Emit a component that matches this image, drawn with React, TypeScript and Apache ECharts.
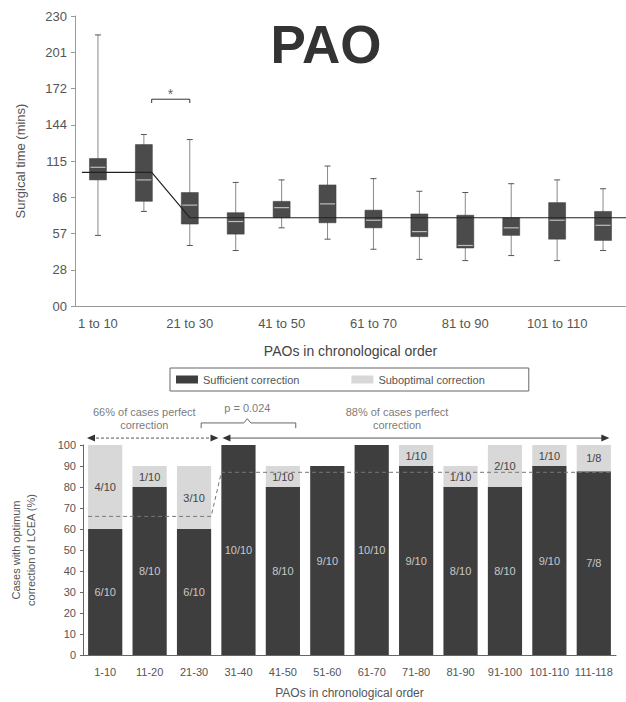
import React, { useEffect, useRef } from 'react';
import * as echarts from 'echarts';

// ---------- Top chart: surgical time box plots ----------
const topCategories = ['1 to 10', '11 to 20', '21 to 30', '31 to 40', '41 to 50', '51 to 60', '61 to 70', '71 to 80', '81 to 90', '91 to 100', '101 to 110', '111 to 118'];
const topTickLabels = ['00', '28', '57', '86', '115', '144', '172', '201', '230'];
const boxMin = [56, 75, 48, 44, 62, 53, 45, 37, 36, 40, 36, 44];
const boxQ1 = [100, 83, 65, 57, 70, 66, 62, 55, 46, 56, 53, 52];
const boxMedian = [110, 100, 80, 67, 78, 81, 68, 59, 48, 62, 68, 64];
const boxQ3 = [117, 128, 90, 74, 83, 96, 76, 73, 72, 70, 82, 75];
const boxMax = [215, 136, 132, 98, 100, 111, 101, 91, 90, 97, 100, 93];
const trendLine = [[0.15, 106], [1.67, 106], [2.5, 70], [12, 70]];
const sigBracket = [[1.67, 161], [1.67, 164], [2.5, 164], [2.5, 161]];
const sigStar = [2.08, 168];

// ---------- Bottom chart: LCEA correction ----------
const bottomCategories = ['1-10', '11-20', '21-30', '31-40', '41-50', '51-60', '61-70', '71-80', '81-90', '91-100', '101-110', '111-118'];
const sufficient = [60, 80, 60, 100, 80, 90, 100, 90, 80, 80, 90, 87.5];
const suboptimal = [40, 10, 30, 0, 10, 0, 0, 10, 10, 20, 10, 12.5];
const sufficientLabels = ['6/10', '8/10', '6/10', '10/10', '8/10', '9/10', '10/10', '9/10', '8/10', '8/10', '9/10', '7/8'];
const suboptimalLabels = ['4/10', '1/10', '3/10', '', '1/10', '', '', '1/10', '1/10', '2/10', '1/10', '1/8'];
const groupRateLine = [[0.115, 66], [2.885, 66], [3.115, 87], [11.885, 87]];
const earlyArrow = [[0.18, 103.3], [2.96, 103.3]];
const lateArrow = [[3.23, 103.3], [11.76, 103.3]];
const pBracket = [[2.66, 108], [2.66, 110.5], [3.62, 110.5], [3.7, 112.5], [3.78, 110.5], [4.79, 110.5], [4.79, 108]];
const annotationTexts = [
  { pos: [1.38, 112.4], text: '66% of cases perfect\ncorrection' },
  { pos: [3.7, 117.6], text: 'p = 0.024' },
  { pos: [7.07, 112.4], text: '88% of cases perfect\ncorrection' },
];

const FONT = 'Liberation Sans, Arial, sans-serif';

export default function App() {
  const ref = useRef<HTMLDivElement>(null);
  useEffect(() => {
    if (!ref.current) return;
    const chart = echarts.init(ref.current, undefined, { renderer: 'svg' });
    const boxData = topCategories.map((_, i) => [i, boxMin[i], boxQ1[i], boxMedian[i], boxQ3[i], boxMax[i]]);
    const option: any = {
      animation: false,
      textStyle: { fontFamily: FONT },
      graphic: [
        {
          type: 'text',
          x: 326,
          y: 44,
          style: { text: 'PAO', fontSize: 53, fontWeight: 'bold', fill: '#333', fontFamily: FONT, textAlign: 'center', textVerticalAlign: 'middle' },
        },
      ],
      legend: {
        data: ['Sufficient correction', 'Suboptimal correction'],
        left: 170,
        top: 368,
        itemWidth: 22,
        itemHeight: 8,
        itemGap: 52,
        icon: 'rect',
        borderColor: '#666',
        borderWidth: 1,
        padding: [6, 44, 6, 6],
        textStyle: { fontSize: 11, color: '#555', fontFamily: FONT },
      },
      grid: [
        { left: 75, top: 16, width: 551, height: 290 },
        { left: 83, top: 445, width: 533, height: 210 },
      ],
      xAxis: [
        {
          gridIndex: 0,
          type: 'category',
          data: topCategories,
          axisLine: { lineStyle: { color: '#999' } },
          axisTick: { alignWithLabel: true, interval: 1, length: 4, lineStyle: { color: '#999' } },
          axisLabel: { interval: 1, color: '#555', fontSize: 13, margin: 11 },
          name: 'PAOs in chronological order',
          nameLocation: 'middle',
          nameGap: 38,
          nameTextStyle: { fontSize: 14, color: '#444' },
        },
        { gridIndex: 0, type: 'value', min: 0, max: 12, show: false },
        {
          gridIndex: 1,
          type: 'category',
          data: bottomCategories,
          axisLine: { lineStyle: { color: '#666' } },
          axisTick: { alignWithLabel: true, length: 3, lineStyle: { color: '#666' } },
          axisLabel: { interval: 0, color: '#555', fontSize: 11, margin: 11 },
          name: 'PAOs in chronological order',
          nameLocation: 'middle',
          nameGap: 32,
          nameTextStyle: { fontSize: 12, color: '#555' },
        },
        { gridIndex: 1, type: 'value', min: 0, max: 12, show: false },
      ],
      yAxis: [
        {
          gridIndex: 0,
          type: 'value',
          min: 0,
          max: 230,
          interval: 28.75,
          axisLine: { show: true, lineStyle: { color: '#999' } },
          axisTick: { show: true, length: 4, lineStyle: { color: '#999' } },
          splitLine: { show: false },
          axisLabel: { color: '#555', fontSize: 13, margin: 8, formatter: (_v: number, i: number) => topTickLabels[i] },
          name: 'Surgical time (mins)',
          nameLocation: 'middle',
          nameGap: 48,
          nameTextStyle: { fontSize: 13, color: '#555' },
        },
        {
          gridIndex: 1,
          type: 'value',
          min: 0,
          max: 100,
          interval: 10,
          axisLine: { show: true, lineStyle: { color: '#666' } },
          axisTick: { show: true, length: 3, lineStyle: { color: '#666' } },
          splitLine: { show: false },
          axisLabel: { color: '#555', fontSize: 11, margin: 7 },
          name: 'Cases with optimum\ncorrection of LCEA (%)',
          nameLocation: 'middle',
          nameGap: 45,
          nameTextStyle: { fontSize: 11, color: '#555', lineHeight: 15 },
        },
      ],
      series: [
        {
          type: 'custom',
          xAxisIndex: 0,
          yAxisIndex: 0,
          data: boxData,
          encode: { x: 0, y: [1, 2, 3, 4, 5] },
          z: 2,
          renderItem: (_params: any, api: any) => {
            const i = api.value(0);
            const lo = api.coord([i, api.value(1)]);
            const q1 = api.coord([i, api.value(2)]);
            const md = api.coord([i, api.value(3)]);
            const q3 = api.coord([i, api.value(4)]);
            const hi = api.coord([i, api.value(5)]);
            const bw = api.size([1, 0])[0] * 0.37;
            const hw = bw / 2;
            const cw = 3;
            const x = lo[0];
            return {
              type: 'group',
              children: [
                { type: 'line', shape: { x1: x, y1: hi[1], x2: x, y2: lo[1] }, style: { stroke: '#8a8a8a', lineWidth: 1 } },
                { type: 'line', shape: { x1: x - cw, y1: hi[1], x2: x + cw, y2: hi[1] }, style: { stroke: '#555', lineWidth: 1 } },
                { type: 'line', shape: { x1: x - cw, y1: lo[1], x2: x + cw, y2: lo[1] }, style: { stroke: '#555', lineWidth: 1 } },
                { type: 'rect', shape: { x: x - hw, y: q3[1], width: bw, height: q1[1] - q3[1] }, style: { fill: '#4b4b4b', stroke: '#3a3a3a', lineWidth: 0.5 } },
                { type: 'line', shape: { x1: x - hw + 1, y1: md[1], x2: x + hw - 1, y2: md[1] }, style: { stroke: '#bdbdbd', lineWidth: 1.2 } },
              ],
            };
          },
        },
        {
          type: 'line',
          xAxisIndex: 1,
          yAxisIndex: 0,
          data: trendLine,
          symbol: 'none',
          z: 4,
          lineStyle: { color: '#222', width: 1.2 },
        },
        {
          type: 'line',
          xAxisIndex: 1,
          yAxisIndex: 0,
          data: sigBracket,
          symbol: 'none',
          z: 4,
          lineStyle: { color: '#333', width: 1 },
        },
        {
          type: 'scatter',
          xAxisIndex: 1,
          yAxisIndex: 0,
          data: [sigStar],
          symbolSize: 1,
          itemStyle: { color: 'rgba(0,0,0,0)' },
          label: { show: true, position: 'inside', formatter: '*', fontSize: 14, color: '#333' },
        },
        {
          name: 'Sufficient correction',
          type: 'bar',
          stack: 'lcea',
          xAxisIndex: 2,
          yAxisIndex: 1,
          data: sufficient,
          barWidth: '77%',
          itemStyle: { color: '#3e3e3e' },
          label: {
            show: true,
            position: 'inside',
            fontSize: 11,
            color: '#c8c8c8',
            formatter: (p: any) => sufficientLabels[p.dataIndex],
          },
        },
        {
          name: 'Suboptimal correction',
          type: 'bar',
          stack: 'lcea',
          xAxisIndex: 2,
          yAxisIndex: 1,
          data: suboptimal,
          barWidth: '77%',
          itemStyle: { color: '#d8d8d8' },
          label: {
            show: true,
            position: 'inside',
            fontSize: 11,
            color: '#444',
            formatter: (p: any) => suboptimalLabels[p.dataIndex],
          },
        },
        {
          type: 'line',
          xAxisIndex: 3,
          yAxisIndex: 1,
          data: groupRateLine,
          symbol: 'none',
          z: 5,
          lineStyle: { color: '#777', width: 1, type: [4, 3] },
        },
        {
          type: 'line',
          xAxisIndex: 3,
          yAxisIndex: 1,
          clip: false,
          data: [
            { value: earlyArrow[0], symbol: 'triangle', symbolRotate: 90 },
            { value: earlyArrow[1], symbol: 'triangle', symbolRotate: -90 },
          ],
          symbolSize: [7, 8],
          itemStyle: { color: '#333' },
          lineStyle: { color: '#555', width: 1, type: [3, 2] },
        },
        {
          type: 'line',
          xAxisIndex: 3,
          yAxisIndex: 1,
          clip: false,
          data: [
            { value: lateArrow[0], symbol: 'triangle', symbolRotate: 90 },
            { value: lateArrow[1], symbol: 'triangle', symbolRotate: -90 },
          ],
          symbolSize: [7, 8],
          itemStyle: { color: '#333' },
          lineStyle: { color: '#555', width: 1 },
        },
        {
          type: 'line',
          xAxisIndex: 3,
          yAxisIndex: 1,
          clip: false,
          data: pBracket,
          symbol: 'none',
          lineStyle: { color: '#666', width: 1 },
        },
        {
          type: 'scatter',
          xAxisIndex: 3,
          yAxisIndex: 1,
          clip: false,
          symbolSize: 1,
          itemStyle: { color: 'rgba(0,0,0,0)' },
          data: annotationTexts.map((a) => ({ value: a.pos, label: { formatter: a.text } })),
          label: { show: true, position: 'inside', fontSize: 11, color: '#555', lineHeight: 13, align: 'center' },
        },
      ],
    };
    chart.setOption(option);
    return () => chart.dispose();
  }, []);
  return <div ref={ref} style={{ position: 'absolute', left: 0, top: 0, width: 626, height: 702 }} />;
}
